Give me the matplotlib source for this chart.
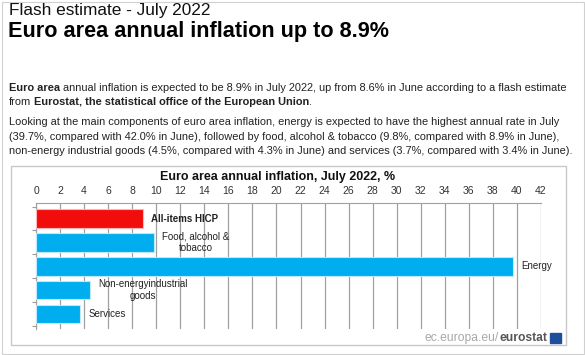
import matplotlib
matplotlib.use("Agg")
import matplotlib.pyplot as plt
from matplotlib.patches import Rectangle

plt.rcParams["font.family"] = ["Liberation Sans", "DejaVu Sans"]

W, H = 585, 355

categories = ["All-items HICP", "Food, alcohol &\ntobacco", "Energy",
              "Non-energyindustrial\ngoods", "Services"]
values = [8.9, 9.8, 39.7, 4.5, 3.7]
bar_colors = ["#f20d0d", "#00aeef", "#00aeef", "#00aeef", "#00aeef"]
edge_colors = ["#fbb6b6", "#bfe9fb", "#bfe9fb", "#bfe9fb", "#bfe9fb"]
label_bold = [True, False, False, False, False]
xticks = list(range(0, 43, 2))

kicker = "Flash estimate - July 2022"
headline = "Euro area annual inflation up to 8.9%"
chart_title = "Euro area annual inflation, July 2022, %"
para_lines = [
    [("Euro area", True), ("annual inflation is expected to be 8.9% in July 2022, up from 8.6% in June according to a flash estimate", False)],
    [("from", False), ("Eurostat, the statistical office of the European Union", True), (".", False)],
    [("Looking at the main components of euro area inflation, energy is expected to have the highest annual rate in July", False)],
    [("(39.7%, compared with 42.0% in June), followed by food, alcohol & tobacco (9.8%, compared with 8.9% in June),", False)],
    [("non-energy industrial goods (4.5%, compared with 4.3% in June) and services (3.7%, compared with 3.4% in June).", False)],
]
para_y = [88, 102, 122, 137, 151]


def fx(x):
    return x / W


def fy(y):
    return 1 - y / H


fig = plt.figure(figsize=(W / 100, H / 100), dpi=100)
renderer = fig.canvas.get_renderer()

# faint border round the whole picture
fig.patches.append(Rectangle((fx(1.5), fy(353.5)), fx(582), 1 - 2 * 1.5 / H - 0.002,
                             transform=fig.transFigure, fill=False,
                             edgecolor="#d0d0d0", lw=0.8))

fig.text(fx(9), fy(11), kicker, fontsize=12.4, va="center", color="#111111")
fig.text(fx(8), fy(31), headline, fontsize=15.6, fontweight="bold", va="center",
         color="#000000")


def rich_line(x, y, pieces, size=7.9):
    for i, (s, bold) in enumerate(pieces):
        t = fig.text(fx(x), fy(y), s, fontsize=size, va="center", color="#222222",
                     fontweight="bold" if bold else "normal")
        bb = t.get_window_extent(renderer)
        x = bb.x1 + (0 if i + 1 < len(pieces) and pieces[i + 1][0] == "." else 2.6)


for pieces, y in zip(para_lines, para_y):
    rich_line(9, y, pieces)

# chart frame
fig.patches.append(Rectangle((fx(10.5), fy(345)), fx(556 - 0.5), (345 - 166) / H,
                             transform=fig.transFigure, fill=False,
                             edgecolor="#c8c8c8", lw=1.0))

fig.text(fx(278), fy(177), chart_title, fontsize=9, fontweight="bold",
         ha="center", va="center", color="#111111")

ax = fig.add_axes([fx(36), fy(329), (541 - 36) / W, (329 - 203) / H])
ypos = list(range(len(values)))
ax.barh(ypos, values, height=0.78, color=bar_colors, edgecolor=edge_colors,
        lw=0.8, zorder=3)
ax.set_xlim(0, 42)
ax.set_ylim(4.63, -0.65)
ax.set_xticks(xticks)
ax.xaxis.tick_top()
ax.tick_params(axis="x", length=0, pad=5, labelsize=7.5, labelcolor="#333333")
ax.set_yticks([y + 0.5 for y in ypos[:-1]] + [-0.5, 4.5])
ax.set_yticklabels([])
ax.tick_params(axis="y", length=3, color="#999999", width=0.8)
ax.grid(axis="x", color="#a0a0a0", lw=0.9, zorder=0)
for side in ["right", "bottom"]:
    ax.spines[side].set_visible(False)
ax.spines["top"].set_color("#a0a0a0")
ax.spines["left"].set_color("#a0a0a0")
ax.set_facecolor("none")

for y, (v, name, bold) in enumerate(zip(values, categories, label_bold)):
    ax.annotate(name, (v, y), xytext=(6, 0), textcoords="offset points",
                ha="left", va="center", multialignment="center", fontsize=7,
                fontweight="bold" if bold else "normal", color="#222222",
                zorder=4)

# footer
ft = fig.text(fx(547), fy(338), "eurostat", fontsize=8.7, fontweight="bold",
              ha="right", va="center", color="#555555")
bb = ft.get_window_extent(renderer)
fig.text(bb.x0 / W, fy(338), "ec.europa.eu/", fontsize=8.7, ha="right",
         va="center", color="#a8a8a8")
fig.patches.append(Rectangle((fx(550), fy(343)), fx(11), 10 / H,
                             transform=fig.transFigure, color="#1f4f9a"))

fig.savefig("out.png", dpi=100, facecolor="white")
